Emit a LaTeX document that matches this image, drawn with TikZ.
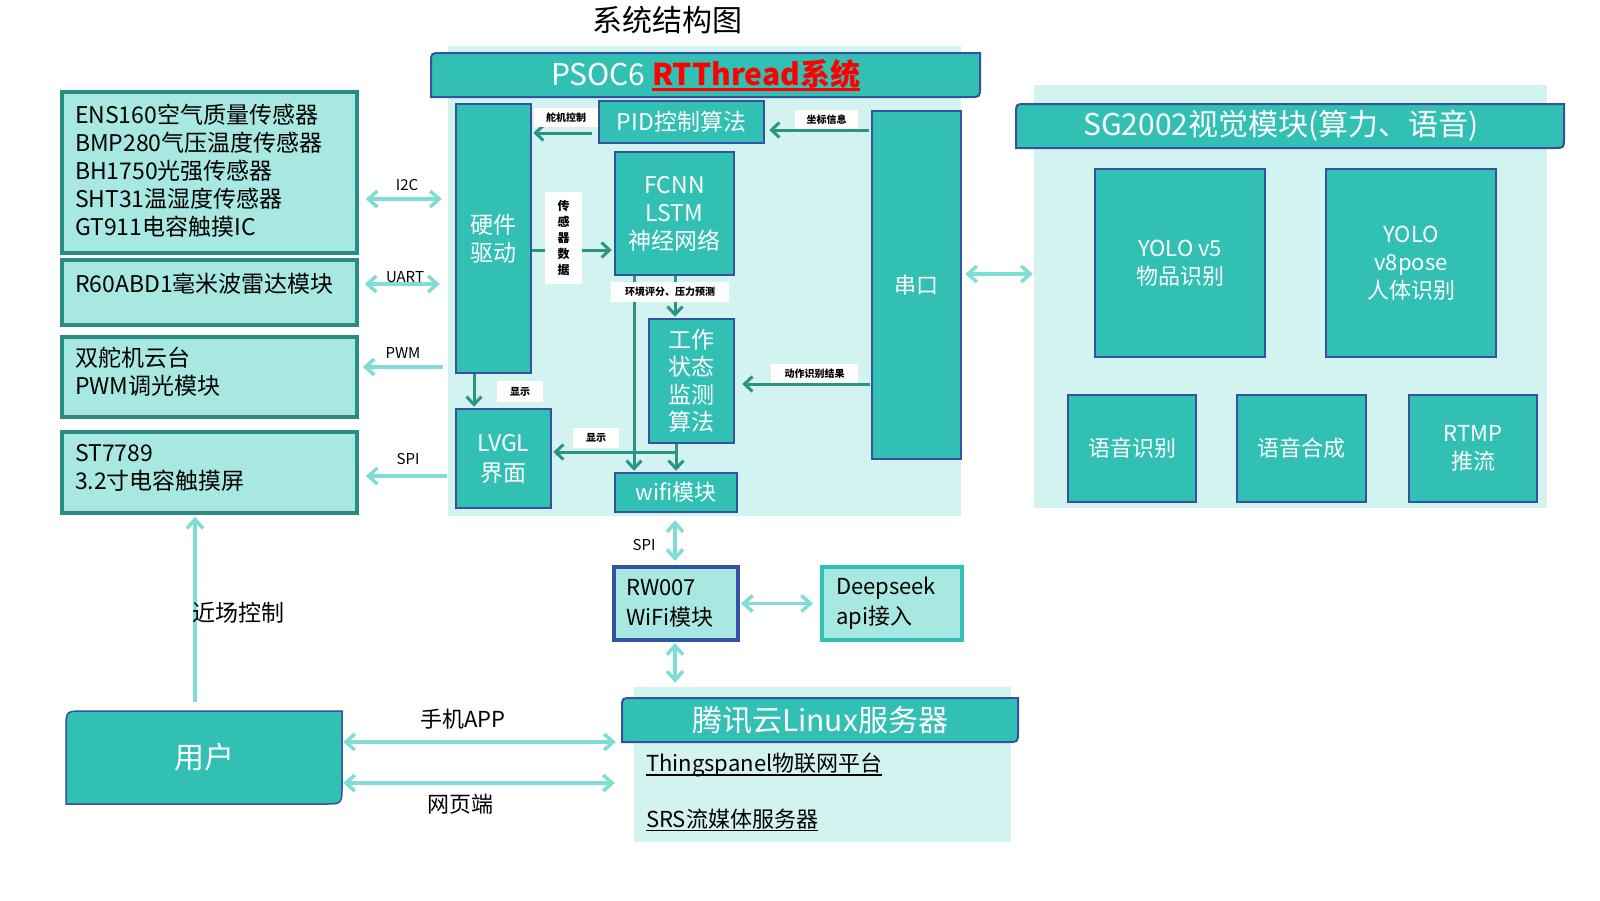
\documentclass[tikz,border=0pt]{standalone}
\usepackage{fontspec}
\setmainfont{Noto Sans CJK SC}
\usetikzlibrary{arrows.meta}
\definecolor{teal1}{HTML}{31C0B3}
\definecolor{lightbg}{HTML}{D3F3F0}
\definecolor{leftfill}{HTML}{A8E8E2}
\definecolor{leftb}{HTML}{2A8C82}
\definecolor{blueb}{HTML}{3352A0}
\definecolor{darkarr}{HTML}{2A9485}
\definecolor{lightarr}{HTML}{80DDD5}
\newcommand\fz[2]{\fontsize{#1pt}{#2pt}\selectfont}
\newsavebox\myulbox
\newcommand\myul[3]{\sbox\myulbox{#3}\leavevmode\rlap{\raisebox{-#2}{\rule{\wd\myulbox}{#1}}}\usebox\myulbox}
\newcommand\diagshape[6]{\path[#6] (#1,#4) -- (#1,#2+#5) .. controls (#1,#2) .. (#1+#5,#2) -- (#3,#2) -- (#3,#4-#5) .. controls (#3,#4) .. (#3-#5,#4) -- cycle;}
\newcommand\dpt[1]{\rule[-#1]{0pt}{0pt}}
\begin{document}
\begin{tikzpicture}[x=1pt,y=-1pt,
  tbox/.style={draw=blueb, fill=teal1, line width=2.5pt, text=white, align=center, inner sep=0pt},
  lbox/.style={draw=leftb, fill=leftfill, line width=3.5pt, text=black, align=left, inner sep=0pt, minimum width=295pt, text width=269pt, font=\fz{23}{28}},
  panel/.style={fill=lightbg, inner sep=0pt},
  barshape/.style={fill=teal1, draw=blueb, line width=2pt},
  tag/.style={fill=white, text=black, inner sep=0pt, font=\bfseries\fz{10}{12}},
  plain/.style={text=black, inner sep=0pt},
  larr/.style={draw=lightarr, line width=3.5pt, >={Straight Barb[length=9pt,width=16pt]}},
  darr/.style={draw=darkarr, line width=3pt, >={Straight Barb[length=8pt,width=15pt]}}
]
\useasboundingbox (0,0) rectangle (1600,900);
\fill[white] (0,0) rectangle (1600,900);

% title
\node[plain, font=\fz{30}{36}] (title) at (667,20) {系统结构图};

% panels
\node[panel, minimum width=513pt, minimum height=470pt] (psocp) at (704.5,281) {};
\node[panel, minimum width=513pt, minimum height=423pt] (sgp) at (1290.5,296.5) {};
\node[panel, minimum width=377pt, minimum height=155pt] (tcp) at (822.5,764.5) {};

% bars
\diagshape{431}{53}{980}{97}{10}{barshape}
\node[text=white, inner sep=0pt, font=\fz{30}{36}] (psoc) at (705.5,75) {PSOC6 {\color{red}\bfseries\myul{3pt}{5pt}{RTThread系统}}};
\diagshape{1016}{104}{1564}{148}{10}{barshape}
\node[text=white, inner sep=0pt, font=\fz{30}{36}] (sg) at (1281,126) {SG2002视觉模块(算力、语音)};
\diagshape{622}{698}{1018}{742}{10}{barshape}
\node[text=white, inner sep=0pt, font=\fz{30}{36}] (tc) at (820,720) {腾讯云Linux服务器};
\diagshape{66}{711}{342}{804}{18}{fill=teal1, draw=blueb, line width=1.5pt}
\node[text=white, inner sep=0pt, minimum width=276pt, minimum height=93pt, font=\fz{30}{36}] (user) at (204,757.5) {用户};

% PSOC6 inner boxes
\node[tbox, minimum width=75pt, minimum height=269pt, font=\fz{23}{28}] (hw) at (493.5,238.5) {硬件\\驱动};
\node[tbox, minimum width=165pt, minimum height=42pt, font=\fz{23}{28}] (pid) at (681.5,122) {PID控制算法};
\node[tbox, minimum width=119pt, minimum height=123pt, font=\fz{23}{28}] (fcnn) at (674.5,213.5) {FCNN\\LSTM\\神经网络};
\node[tbox, minimum width=85pt, minimum height=124pt, font=\fz{23}{27.5}] (work) at (691.5,381) {工作\\状态\\监测\\算法};
\node[tbox, minimum width=95pt, minimum height=99pt, font=\fz{23}{30}] (lvgl) at (503.5,458.5) {LVGL\\界面};
\node[tbox, minimum width=122pt, minimum height=39pt, font=\fz{22}{26}] (wifi) at (676,492.5) {wifi模块};
\node[tbox, minimum width=89pt, minimum height=348pt, font=\fz{22}{26}] (serial) at (916.5,285) {串口};

% SG2002 inner boxes
\node[tbox, minimum width=170pt, minimum height=188pt, font=\fz{22}{28}] (yolo5) at (1180,263) {YOLO v5\\物品识别};
\node[tbox, minimum width=170pt, minimum height=188pt, font=\fz{22}{28}] (yolo8) at (1411,263) {YOLO\\v8pose\\人体识别};
\node[tbox, minimum width=128pt, minimum height=107pt, font=\fz{22}{28}] (asr) at (1132,448.5) {语音识别};
\node[tbox, minimum width=129pt, minimum height=107pt, font=\fz{22}{28}] (tts) at (1301.5,448.5) {语音合成};
\node[tbox, minimum width=128pt, minimum height=107pt, font=\fz{22}{28}] (rtmp) at (1473,448.5) {RTMP\\推流};

% left boxes
\node[lbox, minimum height=161pt] (box1) at (209.5,172.5) {ENS160空气质量传感器\\BMP280气压温度传感器\\BH1750光强传感器\\SHT31温湿度传感器\\GT911电容触摸IC\dpt{6pt}};
\node[lbox, minimum height=65pt] (box2) at (209.5,292.5) {R60ABD1毫米波雷达模块\dpt{19pt}};
\node[lbox, minimum height=80pt] (box3) at (209.5,377) {双舵机云台\\PWM调光模块\dpt{12pt}};
\node[lbox, minimum height=81pt] (box4) at (209.5,472.5) {ST7789\\3.2寸电容触摸屏\dpt{12pt}};

% lower boxes
\node[draw=blueb, fill=leftfill, line width=4pt, minimum width=124pt, minimum height=73pt, text width=100pt, align=left, inner sep=0pt, font=\fz{22}{30}] (rw) at (676,603.5) {RW007\\WiFi模块};
\node[draw=teal1, fill=leftfill, line width=4pt, minimum width=140pt, minimum height=73pt, text width=112pt, align=left, inner sep=0pt, font=\fz{22}{30}] (ds) at (892,603.5) {Deepseek\\api接入};

% server texts
\node[plain, anchor=west, font=\fz{22}{26}] (things) at (646,765) {\myul{1.5pt}{4pt}{Thingspanel物联网平台}};
\node[plain, anchor=west, font=\fz{22}{26}] (srs) at (646,820) {\myul{1.5pt}{4pt}{SRS流媒体服务器}};

% left light arrows
\draw[larr,<->, shorten <=7pt, shorten >=6pt] (box1.east |- 0,199) -- (psocp.west |- 0,199);
\draw[larr,<->, shorten <=6pt, shorten >=8pt] (box2.east |- 0,284) -- (psocp.west |- 0,284);
\draw[larr,->, shorten <=5pt, shorten >=4pt] (psocp.west |- 0,367) -- (box3.east |- 0,367);
\draw[larr,->, shorten <=1pt, shorten >=7pt] (psocp.west |- 0,476) -- (box4.east |- 0,476);
\node[plain, font=\fz{15}{18}] (lbi2c) at (407,185) {I2C};
\node[plain, font=\fz{15}{18}] (lbuart) at (405,277) {UART};
\node[plain, font=\fz{15}{18}] (lbpwm) at (403,353) {PWM};
\node[plain, font=\fz{15}{18}] (lbspi) at (408,459) {SPI};

% serial to SG2002
\draw[larr,<->, shorten <=3pt, shorten >=1pt] (serial.east |- 0,274) -- (sgp.west |- 0,274);

% dark arrows inside PSOC6
\draw[darr,->, shorten <=6pt, shorten >=1pt] (pid.west |- 0,133) -- (hw.east |- 0,133);
\draw[darr,->, shorten <=2pt, shorten >=4pt] (serial.west |- 0,130) -- (pid.east |- 0,130);
\draw[darr,->, shorten >=2pt] (hw.east |- 0,250) -- (fcnn.west |- 0,250);
\draw[darr,->, shorten >=1pt] (fcnn.south -| 675,0) -- (work.north -| 675,0);
\draw[darr,->, shorten >=1pt] (fcnn.south -| 634,0) -- (wifi.north -| 634,0);
\draw[darr,->, shorten >=1pt] (work.south -| 676,0) -- (wifi.north -| 676,0);
\coordinate (jn) at (676,452);
\draw[darr,->, shorten >=1pt] (jn) -- (lvgl.east |- jn);
\draw[darr,->, shorten >=1pt] (hw.south -| 474,0) -- (lvgl.north -| 474,0);
\draw[darr,->, shorten <=1pt, shorten >=7pt] (serial.west |- 0,384) -- (work.east |- 0,384);

% tags
\node[tag, minimum width=64pt, minimum height=19pt] (tg1) at (566,117.5) {舵机控制};
\node[tag, minimum width=63pt, minimum height=19pt] (tg2) at (826.5,119.5) {坐标信息};
\node[tag, minimum width=37pt, minimum height=92pt, align=center, font=\bfseries\fz{12}{16}] (tg3) at (563.5,238) {传\\感\\器\\数\\据};
\node[tag, minimum width=118pt, minimum height=20pt] (tg4) at (670,292) {环境评分、压力预测};
\node[tag, minimum width=46pt, minimum height=21pt] (tg5) at (520,391.5) {显示};
\node[tag, minimum width=46pt, minimum height=20pt] (tg6) at (596,438) {显示};
\node[tag, minimum width=87pt, minimum height=19pt] (tg7) at (814.5,373.5) {动作识别结果};

% lower light arrows
\draw[larr,<->, shorten <=7pt, shorten >=4pt] (wifi.south -| 675,0) -- (rw.north -| 675,0);
\node[plain, font=\fz{15}{18}] (lbspi2) at (644,545) {SPI};
\draw[larr,<->, shorten <=1pt, shorten >=7pt] (rw.east) -- (ds.west);
\draw[larr,<->, shorten <=1pt, shorten >=4pt] (rw.south -| 675,0) -- (tcp.north -| 675,0);
\draw[larr,<->, shorten <=1pt, shorten >=18pt] (user.east |- 0,742) -- (tcp.west |- 0,742);
\draw[larr,<->, shorten <=1pt, shorten >=19pt] (user.east |- 0,783) -- (tcp.west |- 0,783);
\node[plain, font=\fz{22}{26}] (lbapp) at (463,719) {手机APP};
\node[plain, font=\fz{22}{26}] (lbweb) at (460,804) {网页端};
\draw[larr,->, shorten <=9pt, shorten >=2pt] (user.north -| 195,0) -- (box4.south -| 195,0);
\node[plain, anchor=west, font=\fz{23}{26}] (lbnear) at (192,613) {近场控制};
\end{tikzpicture}
\end{document}
